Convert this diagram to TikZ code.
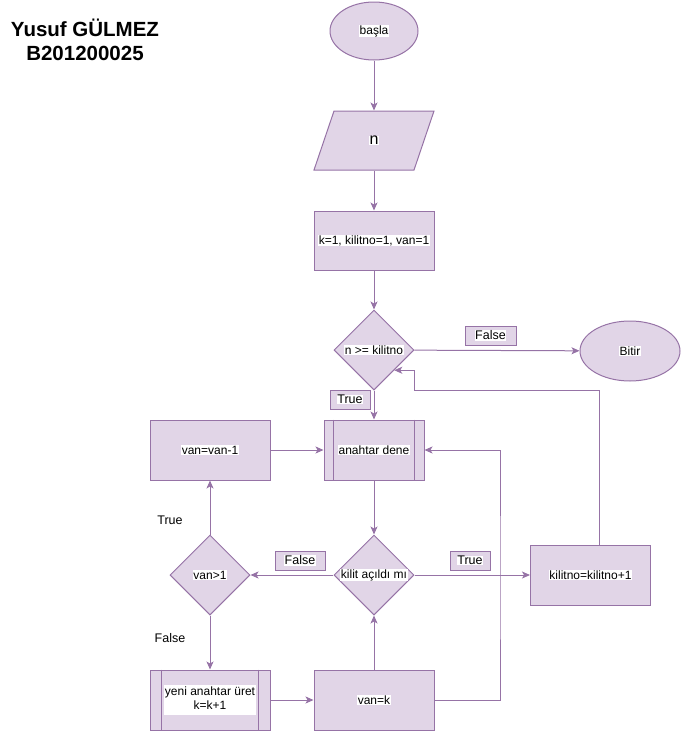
\documentclass[tikz,border=0pt]{standalone}
\usepackage{fontspec}
\setmainfont{Liberation Sans}
\usetikzlibrary{shapes.geometric,arrows.meta}
\definecolor{lilac}{HTML}{E1D5E7}
\definecolor{plum}{HTML}{9673A6}
\newcommand{\wbg}[1]{{\setlength{\fboxsep}{0.6pt}\colorbox{white}{#1}}}
\begin{document}
\begin{tikzpicture}[x=1pt,y=-1pt, line width=1pt, every node/.style={font=\fontsize{12}{14}\selectfont},
  box/.style={draw=plum,fill=lilac,minimum width=120pt,minimum height=60pt,inner sep=0pt},
  dec/.style={diamond,draw=plum,fill=lilac,minimum width=80pt,minimum height=80pt,inner sep=0pt},
  term/.style={ellipse,draw=plum,fill=lilac,inner sep=0pt},
  tag/.style={draw=plum,fill=lilac,minimum height=19pt,inner sep=1pt,font=\fontsize{12.5}{14}\selectfont},
  flow/.style={draw=plum,-{Stealth[length=8pt,width=7pt,inset=2pt]}}]
\useasboundingbox (0,0) rectangle (682,731);
% title
\node[font=\bfseries\fontsize{20.5}{24}\selectfont] (name) at (85,28) {Yusuf GÜLMEZ};
\node[font=\bfseries\fontsize{20.5}{24}\selectfont] (id) at (85,53) {B201200025};
% main column
\node[term,minimum width=88pt,minimum height=58pt] (start) at (374,31) {\wbg{başla}};
\fill[lilac] (334,111) -- (434,111) -- (414,170) -- (314,170) -- cycle;
\draw[plum] (334,111) -- (434,111) -- (414,170) -- (314,170) -- cycle;
\node[minimum width=120pt,minimum height=59pt,inner sep=0pt] (inp) at (374,140.5) {\wbg{\fontsize{16}{18}\selectfont n}};
\node[box,minimum height=59pt] (init) at (374,240.5) {\wbg{k=1, kilitno=1, van=1}};
\node[dec] (cond) at (374,350) {\wbg{n >= kilitno}};
\node[term,minimum width=100pt,minimum height=60pt] (stop) at (630,351) {\wbg{Bitir}};
\node[box,minimum width=100pt] (try) at (374,450) {\wbg{anahtar dene}};
\draw[plum] ([xshift=10pt]try.north west) -- ([xshift=10pt]try.south west)
  ([xshift=-10pt]try.north east) -- ([xshift=-10pt]try.south east);
\node[dec] (open) at (374,575) {\wbg{kilit açıldı mı}};
\node[box] (dec1) at (210,450) {\wbg{van=van-1}};
\node[dec] (big) at (210,575) {\wbg{van>1}};
\node[box] (kinc) at (590.5,575) {\wbg{kilitno=kilitno+1}};
\node[box] (gen) at (210,700) {\wbg{\begin{tabular}{@{}c@{}}yeni anahtar üret\\k=k+1\end{tabular}}};
\draw[plum] ([xshift=12pt]gen.north west) -- ([xshift=12pt]gen.south west)
  ([xshift=-12pt]gen.north east) -- ([xshift=-12pt]gen.south east);
\node[box] (vank) at (374,700) {\wbg{van=k}};
% tags
\node[tag,minimum width=51pt] (f1) at (490.5,335.5) {\wbg{False}};
\node[tag,minimum width=40pt] (t1) at (350,399.5) {\wbg{True}};
\node[tag,minimum width=50pt] (f2) at (300,560.5) {\wbg{False}};
\node[tag,minimum width=40pt] (t2) at (470,560.5) {\wbg{True}};
\node[font=\fontsize{12.5}{14}\selectfont] (t3) at (170,520) {True};
\node[font=\fontsize{12.5}{14}\selectfont] (f3) at (170,638) {False};
% connectors
\draw[flow] (start) -- (inp);
\draw[flow] (inp) -- (init);
\draw[flow] (init) -- (cond);
\draw[flow] (cond) -- (stop);
\draw[flow] (cond) -- (try);
\draw[flow] (try) -- (open);
\draw[flow] (open) -- (big);
\draw[flow] (open) -- (kinc);
\draw[flow] (big) -- (dec1);
\draw[flow] (dec1) -- (try);
\draw[flow] (big) -- (gen);
\draw[flow] (gen) -- (vank);
\draw[flow] (vank) -- (open);
\coordinate (loop) at (500,580);
\draw[flow] (vank.east) -| (loop) |- (try.east);
\coordinate (back) at (414,390);
\draw[flow] ([xshift=8.5pt]kinc.north) |- (back) |- (cond.south east);
\end{tikzpicture}
\end{document}
